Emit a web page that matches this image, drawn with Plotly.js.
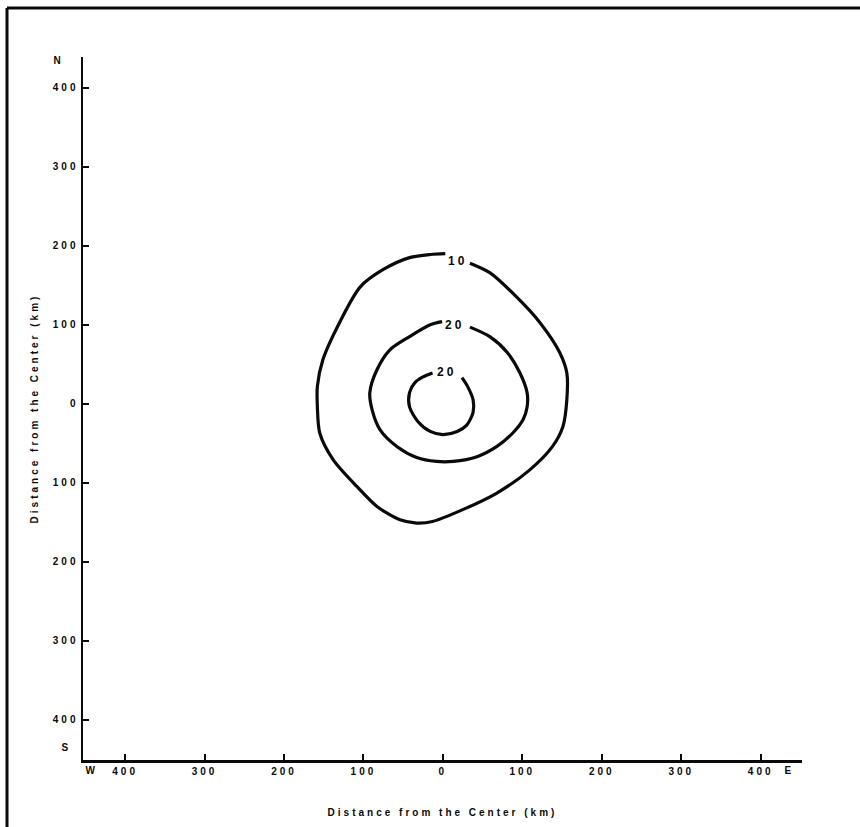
<!DOCTYPE html>
<html>
<head>
<meta charset="utf-8">
<script src="https://cdn.plot.ly/plotly-3.0.1.min.js"></script>
<style>
  html, body { margin: 0; padding: 0; background: #fff; }
  #chart { width: 860px; height: 827px; }
  .main-svg text { letter-spacing: 3px; }
</style>
</head>
<body>
<div id="chart"></div>
<script>
// Contour lines (km from the center)
const outerX = [34, 59, 93, 122, 147, 156, 156, 151, 138, 109, 68, 25, -13, -33, -54, -83, -108, -138, -155, -158, -158, -151, -130, -104, -75, -42, -16, 3];
const outerY = [178, 166, 135, 103, 65, 39, 5, -29, -54, -84, -113, -134, -149, -151, -147, -130, -105, -71, -37, -4, 22, 56, 103, 148, 170, 185, 189, 190];

const middleX = [34, 59, 81, 97, 106, 106, 101, 88, 68, 43, 13, -8, -33, -58, -79, -89, -92, -83, -67, -42, -16, -1];
const middleY = [97, 85, 65, 39, 14, -4, -20, -37, -54, -67, -73, -73, -68, -54, -33, -8, 14, 43, 68, 85, 100, 104];

const innerX = [24, 31, 38, 38, 30, 18, 0, -16, -31, -42, -42, -35, -25, -13];
const innerY = [33, 22, 5, -11, -27, -35, -39, -35, -23, -4, 14, 27, 34, 39];

// Contour labels
const contourLabels = ["10", "20", "20"];
const contourLabelX = [19, 15, 5];
const contourLabelY = [181, 100, 40];

// Axis ticks
const xTickVals = [-400, -300, -200, -100, 0, 100, 200, 300, 400];
const xTickText = ["400", "300", "200", "100", "0", "100", "200", "300", "400"];
const yTickVals = [-400, -300, -200, -100, 0, 100, 200, 300, 400];
const yTickText = ["400", "300", "200", "100", "0", "100", "200", "300", "400"];

// Compass letters (paper-relative placement)
const compassText = ["N", "S", "W", "E"];
const compassX = [-0.0334, -0.0236, 0.0125, 0.9833];
const compassY = [0.9957, 0.0171, -0.0156, -0.0156];

const FONT = "Liberation Sans, Arial, Helvetica, sans-serif";
const INK = "#0a0a0a";

const lineStyle = { color: INK, width: 3.2, shape: "spline", smoothing: 0.8 };
const traces = [
  { x: outerX, y: outerY, mode: "lines", line: lineStyle, hoverinfo: "skip", showlegend: false, name: "10" },
  { x: middleX, y: middleY, mode: "lines", line: lineStyle, hoverinfo: "skip", showlegend: false, name: "20" },
  { x: innerX, y: innerY, mode: "lines", line: lineStyle, hoverinfo: "skip", showlegend: false, name: "20 inner" }
];

const annotations = [];
for (let i = 0; i < contourLabels.length; i++) {
  annotations.push({
    x: contourLabelX[i], y: contourLabelY[i], xref: "x", yref: "y",
    text: contourLabels[i], showarrow: false,
    font: { family: FONT, size: 12, color: INK, weight: "bold" }
  });
}
for (let i = 0; i < compassText.length; i++) {
  annotations.push({
    x: compassX[i], y: compassY[i], xref: "paper", yref: "paper",
    xanchor: "center", yanchor: "middle",
    text: compassText[i], showarrow: false,
    font: { family: FONT, size: 10, color: INK, weight: "bold" }
  });
}

const layout = {
  width: 860, height: 827,
  margin: { l: 83, r: 58, t: 57, b: 67, pad: 0 },
  paper_bgcolor: "#ffffff", plot_bgcolor: "#ffffff",
  showlegend: false,
  font: { family: FONT, color: INK },
  xaxis: {
    range: [-453, 452], autorange: false,
    showgrid: false, zeroline: false,
    showline: true, linecolor: INK, linewidth: 2.5,
    ticks: "inside", ticklen: 6, tickwidth: 2, tickcolor: INK,
    tickvals: xTickVals, ticktext: xTickText,
    tickfont: { family: FONT, size: 10, color: INK, weight: "bold" },
    title: { text: "Distance from the Center (km)", standoff: 34,
             font: { family: FONT, size: 10, color: INK, weight: "bold" } }
  },
  yaxis: {
    range: [-451, 439], autorange: false,
    showgrid: false, zeroline: false,
    showline: true, linecolor: INK, linewidth: 2.5,
    ticks: "inside", ticklen: 6, tickwidth: 2, tickcolor: INK,
    tickvals: yTickVals, ticktext: yTickText,
    tickfont: { family: FONT, size: 10, color: INK, weight: "bold" },
    title: { text: "Distance from the Center (km)", standoff: 22,
             font: { family: FONT, size: 10, color: INK, weight: "bold" } }
  },
  annotations: annotations,
  shapes: [
    { type: "line", xref: "paper", yref: "paper", x0: -0.1057, x1: -0.1057, y0: 1.0697, y1: -0.1, line: { color: INK, width: 3 } },
    { type: "line", xref: "paper", yref: "paper", x0: -0.1057, x1: 1.09, y0: 1.0697, y1: 1.0697, line: { color: INK, width: 3 } }
  ]
};

Plotly.newPlot("chart", traces, layout, { displayModeBar: false, staticPlot: true });
</script>
</body>
</html>
